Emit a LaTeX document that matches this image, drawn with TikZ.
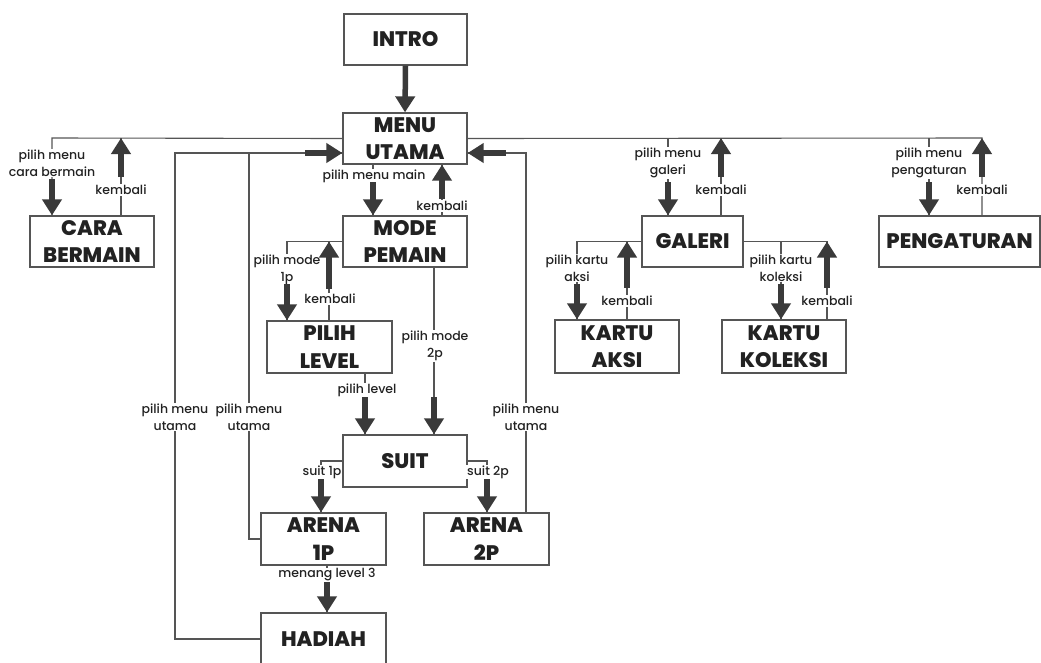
\documentclass[tikz,border=0pt]{standalone}
\usepackage{fontspec}
\setmainfont{Poppins}
\IfFontExistsTF{Poppins ExtraBold}
  {\newfontfamily\ttlfont{Poppins ExtraBold}}
  {\newfontfamily\ttlfont{Poppins}[UprightFont=*-Bold,FakeBold=1.5]}
\IfFontExistsTF{Poppins Medium}
  {\newfontfamily\lblfont{Poppins Medium}}
  {\newfontfamily\lblfont{Poppins}[FakeBold=0.6]}
\usetikzlibrary{arrows.meta,calc}
\definecolor{linec}{HTML}{555555}
\definecolor{arrc}{HTML}{3A3A3A}
\definecolor{txtc}{HTML}{222222}
\tikzset{
 box/.style={draw=linec, line width=1.3pt, inner sep=0pt, align=center,
   font=\ttlfont\fontsize{21}{27.5}\selectfont, text=txtc, minimum height=51pt},
 wire/.style={draw=linec, line width=1.1pt},
 lbl/.style={fill=white, inner sep=0.8pt, align=center,
   font=\lblfont\fontsize{12.5}{17}\selectfont, text=txtc},
 big/.style={draw=arrc, line width=5.5pt, -{Triangle[width=19pt,length=16pt]}},
}
\begin{document}
\begin{tikzpicture}[x=1pt,y=-1pt]
\useasboundingbox (0,0) rectangle (1041,662);
\clip (0,0) rectangle (1041,662);
\fill[white] (0,0) rectangle (1041,662);

% boxes
\node[box, minimum width=123pt] (intro) at (405.5,39.5) {INTRO};
\node[box, minimum width=124pt] (menu) at (405,138.5) {MENU\\UTAMA};
\node[box, minimum width=124pt] (cara) at (92,241.5) {CARA\\BERMAIN};
\node[box, minimum width=124pt] (mode) at (405,241.5) {MODE\\PEMAIN};
\node[box, minimum width=125pt, minimum height=52pt] (level) at (329.5,347) {PILIH\\LEVEL};
\node[box, minimum width=124pt, minimum height=52pt] (suit) at (405,461) {SUIT};
\node[box, minimum width=125pt, minimum height=52pt] (arena1) at (323.5,539) {ARENA\\1P};
\node[box, minimum width=125pt, minimum height=52pt] (arena2) at (486.5,539) {ARENA\\2P};
\node[box, minimum width=125pt, minimum height=52pt] (hadiah) at (323.5,639) {HADIAH};
\node[box, minimum width=101pt] (galeri) at (692.5,241.5) {GALERI};
\node[box, minimum width=161pt] (peng) at (959.5,241.5) {PENGATURAN};
\node[box, minimum width=124pt, minimum height=53pt] (aksi) at (617,346.5) {KARTU\\AKSI};
\node[box, minimum width=124pt, minimum height=53pt] (koleksi) at (784,346.5) {KARTU\\KOLEKSI};

% routing coordinates
\coordinate (bl) at (52,138);
\coordinate (br) at (982,138);
\coordinate (xcb) at (121,138);
\coordinate (xgal) at (668,138);
\coordinate (xgk) at (721,138);
\coordinate (xpg) at (929,138);
\coordinate (xmm) at (373,0);
\coordinate (xmk) at (442,0);
\coordinate (c1p) at (287,0);
\coordinate (xlk) at (329,0);
\coordinate (x2p) at (434,0);
\coordinate (xpl) at (365,0);
\coordinate (xs1) at (321,0);
\coordinate (xs2) at (487,0);
\coordinate (xml) at (327,0);
\coordinate (rl1) at (175,153);
\coordinate (rl2) at (249,153);
\coordinate (rr) at (526,153);
\coordinate (xka) at (577,0);
\coordinate (xkak) at (627,0);
\coordinate (xkk) at (781,0);
\coordinate (xkkk) at (827,0);

% thin wires
\draw[wire] (menu.west) -- (bl) -- (cara.north -| bl);
\draw[wire] (menu.east) -- (br) -- (peng.north -| br);
\draw[wire] (cara.north -| xcb) -- (xcb);
\draw[wire] (xgal) -- (galeri.north -| xgal);
\draw[wire] (galeri.north -| xgk) -- (xgk);
\draw[wire] (xpg) -- (peng.north -| xpg);
\draw[wire] (menu.south -| xmm) -- (mode.north -| xmm);
\draw[wire] (mode.north -| xmk) -- (menu.south -| xmk);
\draw[wire] (mode.west) -- (mode.west -| c1p) -- (level.north -| c1p);
\draw[wire] (level.north -| xlk) -- (mode.west -| xlk);
\draw[wire] (mode.south -| x2p) -- (suit.north -| x2p);
\draw[wire] (level.south -| xpl) -- (suit.north -| xpl);
\draw[wire] (suit.west) -- (suit.west -| xs1) -- (arena1.north -| xs1);
\draw[wire] (suit.east) -- (suit.east -| xs2) -- (arena2.north -| xs2);
\draw[wire] (arena1.south -| xml) -- (hadiah.north -| xml);
\draw[wire] (hadiah.west) -- (hadiah.west -| rl1) -- (rl1) -- (menu.west |- rl1);
\draw[wire] (arena1.west) -- (arena1.west -| rl2) -- (rl2);
\draw[wire] (arena2.north -| rr) -- (rr) -- (menu.east |- rr);
\draw[wire] (galeri.west) -- (galeri.west -| xka) -- (aksi.north -| xka);
\draw[wire] (aksi.north -| xkak) -- (galeri.west -| xkak);
\draw[wire] (galeri.east) -- (galeri.east -| xkkk) -- (koleksi.north -| xkkk);
\draw[wire] (galeri.east -| xkk) -- (koleksi.north -| xkk);

% labels
\node[lbl] (l1) at (52,163) {pilih menu\\cara bermain};
\node[lbl] (l2) at (121,190) {kembali};
\node[lbl] (l3) at (374,176) {pilih menu main};
\node[lbl] (l4) at (442,206) {kembali};
\node[lbl] (l5) at (287,270) {pilih mode\\1p};
\node[lbl] (l6) at (330,299) {kembali};
\node[lbl] (l7) at (435,346) {pilih mode\\2p};
\node[lbl] (l8) at (367,390) {pilih level};
\node[lbl] (l9) at (322,472) {suit 1p};
\node[lbl] (l10) at (488,472) {suit 2p};
\node[lbl] (l11) at (327,575) {menang level 3};
\node[lbl] (l12) at (175,417) {pilih menu\\utama};
\node[lbl] (l13) at (249,417) {pilih menu\\utama};
\node[lbl] (l14) at (526,417) {pilih menu\\utama};
\node[lbl] (l15) at (668,163) {pilih menu\\galeri};
\node[lbl] (l16) at (721,190) {kembali};
\node[lbl] (l17) at (929,163) {pilih menu\\pengaturan};
\node[lbl] (l18) at (982,190) {kembali};
\node[lbl] (l19) at (577,268) {pilih kartu\\aksi};
\node[lbl] (l20) at (627,301) {kembali};
\node[lbl] (l21) at (781,268) {pilih kartu\\koleksi};
\node[lbl] (l22) at (827,301) {kembali};

% thick arrows
\draw[big] (intro.south) -- (menu.north);
\draw[big] ($(cara.north -| bl)+(0,-36)$) -- (cara.north -| bl);
\draw[big] ($(xcb)+(0,39)$) -- (xcb);
\draw[big] ($(mode.north -| xmm)+(0,-33)$) -- (mode.north -| xmm);
\draw[big] ($(menu.south -| xmk)+(0,34)$) -- (menu.south -| xmk);
\draw[big] ($(level.north -| c1p)+(0,-36)$) -- (level.north -| c1p);
\draw[big] ($(mode.west -| xlk)+(0,47)$) -- (mode.west -| xlk);
\draw[big] ($(suit.north -| x2p)+(0,-37)$) -- (suit.north -| x2p);
\draw[big] ($(suit.north -| xpl)+(0,-37)$) -- (suit.north -| xpl);
\draw[big] ($(arena1.north -| xs1)+(0,-33)$) -- (arena1.north -| xs1);
\draw[big] ($(arena2.north -| xs2)+(0,-33)$) -- (arena2.north -| xs2);
\draw[big] ($(hadiah.north -| xml)+(0,-30)$) -- (hadiah.north -| xml);
\draw[big] ($(menu.west |- rl1)+(-37,0)$) -- (menu.west |- rl1);
\draw[big] ($(menu.east |- rr)+(38,0)$) -- (menu.east |- rr);
\draw[big] ($(galeri.north -| xgal)+(0,-33)$) -- (galeri.north -| xgal);
\draw[big] ($(xgk)+(0,39)$) -- (xgk);
\draw[big] ($(peng.north -| xpg)+(0,-33)$) -- (peng.north -| xpg);
\draw[big] ($(br)+(0,39)$) -- (br);
\draw[big] ($(aksi.north -| xka)+(0,-35)$) -- (aksi.north -| xka);
\draw[big] ($(galeri.west -| xkak)+(0,46)$) -- (galeri.west -| xkak);
\draw[big] ($(koleksi.north -| xkk)+(0,-35)$) -- (koleksi.north -| xkk);
\draw[big] ($(galeri.east -| xkkk)+(0,46)$) -- (galeri.east -| xkkk);
\end{tikzpicture}
\end{document}
